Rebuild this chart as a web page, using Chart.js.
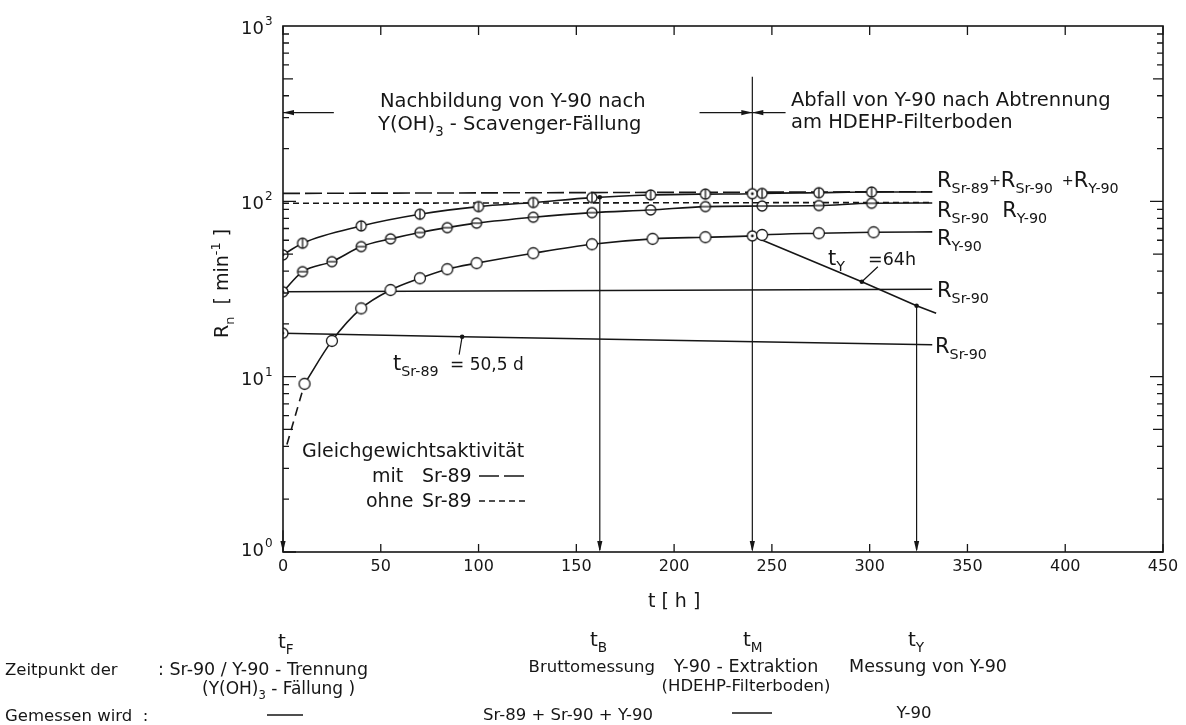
<!DOCTYPE html>
<html>
<head>
<meta charset="utf-8">
<script src="https://cdn.jsdelivr.net/npm/chart.js@4.4.0/dist/chart.umd.min.js"></script>
<style>
  body { margin: 0; background: #fff; }
  canvas { display: block; }
</style>
</head>
<body>
<canvas id="chart" width="1186" height="725"></canvas>
<script>
// values (t in hours, R in 1/min)
const tSum = [0, 10, 40, 70, 100, 128, 158, 188, 216, 240, 245, 274, 301, 332];
const rSum = [49.5, 57.7, 72.4, 84.4, 93.3, 98.4, 105, 108.7, 110, 110.5, 111, 112, 113, 113];
const tSrY = [0, 10, 25, 40, 55, 70, 84, 99, 128, 158, 188, 216, 245, 274, 301, 332];
const rSrY = [30.5, 39.7, 45.3, 55.2, 61.1, 66.4, 70.8, 75.1, 81.2, 86.2, 89.3, 93.3, 94, 94.6, 97.5, 97.8];
const tY = [11, 25, 40, 55, 70, 84, 99, 128, 158, 189, 216, 240, 245, 274, 302, 332];
const rY = [9.1, 16.0, 24.5, 31.2, 36.4, 41.0, 44.4, 50.6, 56.9, 61.1, 62.4, 63.5, 64.3, 65.8, 66.6, 67];
const tYEarly = [2, 11];
const rYEarly = [4.1, 9.1];
const tSr90 = [0, 332];
const rSr90 = [30.5, 31.5];
const tSr89 = [0, 91.6, 332];
const rSr89 = [17.7, 16.9, 15.2];
const tDecay = [240, 296, 324, 334];
const rDecay = [63.5, 34.8, 25.4, 23.0];
const tEq = [0, 332];
const rEqWith = [111, 113.5];
const rEqWithout = [97.5, 98.5];

const xTicks = [0, 50, 100, 150, 200, 250, 300, 350, 400, 450];
const yDecades = [1, 10, 100, 1000];
const yExponents = ["0", "1", "2", "3"];

// t_F, t_B, t_M, t_Y and where their vertical lines start
const tMarks = [0, 162, 240, 324];
const tMarkTop = [1.33, 105.5, 513, 25.4];
const arrowLevel = 321;
const arrowSpans = [[26, 0], [213, 240], [257, 240]];

const F = '"DejaVu Sans", sans-serif';
const INK = "#161616";

function makeMarker(kind, r) {
  const c = document.createElement("canvas");
  c.width = 16; c.height = 16;
  const g = c.getContext("2d");
  g.fillStyle = "#fff"; g.strokeStyle = INK; g.lineWidth = 1.3;
  g.beginPath(); g.arc(8, 8, r, 0, Math.PI * 2); g.fill(); g.stroke();
  g.beginPath();
  if (kind === "v") { g.moveTo(8, 8 - r); g.lineTo(8, 8 + r); }
  if (kind === "h") { g.moveTo(8 - r, 8); g.lineTo(8 + r, 8); }
  g.stroke();
  if (kind === "dot") {
    g.fillStyle = INK; g.beginPath(); g.arc(8, 8, 1.4, 0, Math.PI * 2); g.fill();
  }
  return c;
}
const M = { v: makeMarker("v", 5), h: makeMarker("h", 5), o: makeMarker("o", 5.5), dot: makeMarker("dot", 5) };

const pts = (ts, rs) => ts.map((t, i) => ({ x: t, y: rs[i] }));
const isLast = (c) => c.dataIndex === c.dataset.data.length - 1;

function measured(kind, dotAt) {
  return {
    pointStyle: (c) => (c.raw && dotAt.includes(c.raw.x) ? M.dot : M[kind]),
    pointRadius: (c) => (isLast(c) ? 0 : 5),
  };
}
function smallDots(at) {
  return {
    pointStyle: (c) => (c.raw && c.raw.x === 0 ? M.dot : "circle"),
    pointRadius: (c) => (c.raw && (at.includes(c.raw.x) || c.raw.x === 0) ? (c.raw.x === 0 ? 5 : 2.3) : 0),
    pointBackgroundColor: INK,
    pointBorderWidth: 0,
  };
}

const base = { borderColor: INK, borderWidth: 1.6, fill: false, pointRadius: 0 };
const curve = { cubicInterpolationMode: "monotone" };

const datasets = [
  { ...base, ...curve, data: pts(tSum, rSum), ...measured("v", [0, 240]) },
  { ...base, ...curve, data: pts(tSrY, rSrY), ...measured("h", [0]) },
  { ...base, ...curve, data: pts(tY, rY), ...measured("o", [240]) },
  { ...base, data: pts(tDecay, rDecay), ...smallDots([296, 324]) },
  { ...base, data: pts(tSr89, rSr89), ...smallDots([91.6]) },
  { ...base, data: pts(tSr90, rSr90) },
  { ...base, ...curve, data: pts(tYEarly, rYEarly), borderDash: [9, 6] },
  { ...base, data: pts(tEq, rEqWith), borderDash: [17, 5] },
  { ...base, data: pts(tEq, rEqWithout), borderDash: [6, 4] },
];

function rich(ctx, x, y, parts, size, align) {
  const seg = parts.map((p) => {
    const [txt, m] = Array.isArray(p) ? p : [p, "n"];
    const s = m === "n" ? size : size * 0.68;
    const dy = m === "b" ? size * 0.3 : m === "p" ? -size * 0.42 : m === "m" ? -size * 0.1 : 0;
    ctx.font = `${s}px ${F}`;
    return { txt, s, dy, w: ctx.measureText(txt).width };
  });
  const total = seg.reduce((a, b) => a + b.w, 0);
  let cx = align === "right" ? x - total : align === "center" ? x - total / 2 : x;
  ctx.textAlign = "left";
  ctx.textBaseline = "alphabetic";
  seg.forEach((g) => {
    ctx.font = `${g.s}px ${F}`;
    ctx.fillText(g.txt, cx, y + g.dy);
    cx += g.w;
  });
  return total;
}

function head(ctx, x, y, dx, dy) {
  const L = 11, W = 2.6;
  ctx.beginPath();
  ctx.moveTo(x, y);
  ctx.lineTo(x - dx * L - dy * W, y - dy * L + dx * W);
  ctx.lineTo(x - dx * L + dy * W, y - dy * L - dx * W);
  ctx.closePath();
  ctx.fill();
}

const paper = {
  id: "paper",
  beforeDraw(chart) {
    const ctx = chart.ctx;
    ctx.save();
    ctx.fillStyle = "#fff";
    ctx.fillRect(0, 0, chart.width, chart.height);
    ctx.restore();
  },
  beforeDatasetsDraw(chart) {
    const ctx = chart.ctx;
    const X = (t) => chart.scales.x.getPixelForValue(t);
    const Y = (v) => chart.scales.y.getPixelForValue(v);
    ctx.save();
    ctx.strokeStyle = INK; ctx.fillStyle = INK; ctx.lineWidth = 1.2;
    tMarks.forEach((t, i) => {
      ctx.beginPath();
      ctx.moveTo(X(t), Y(tMarkTop[i]));
      ctx.lineTo(X(t), Y(1) - 2);
      ctx.stroke();
      head(ctx, X(t), Y(1), 0, 1);
    });
    ctx.beginPath(); ctx.arc(X(tMarks[1]), Y(tMarkTop[1]), 2.3, 0, Math.PI * 2); ctx.fill();
    arrowSpans.forEach(([a, b]) => {
      ctx.beginPath();
      ctx.moveTo(X(a), Y(arrowLevel));
      ctx.lineTo(X(b), Y(arrowLevel));
      ctx.stroke();
      head(ctx, X(b), Y(arrowLevel), Math.sign(b - a), 0);
    });
    // leader lines for the half-life notes
    ctx.beginPath();
    ctx.moveTo(X(296), Y(34.8)); ctx.lineTo(X(296) + 16, Y(34.8) - 15);
    ctx.moveTo(X(91.6), Y(16.9)); ctx.lineTo(X(91.6) - 3, Y(16.9) + 18);
    ctx.stroke();
    ctx.restore();
  },
  afterDatasetsDraw(chart) {
    const ctx = chart.ctx;
    const a = chart.chartArea;
    const X = (t) => chart.scales.x.getPixelForValue(t);
    const Y = (v) => chart.scales.y.getPixelForValue(v);
    ctx.save();
    ctx.strokeStyle = INK; ctx.fillStyle = INK;

    // frame and inner ticks
    ctx.lineWidth = 1.6;
    ctx.strokeRect(a.left, a.top, a.right - a.left, a.bottom - a.top);
    ctx.lineWidth = 1.3;
    ctx.beginPath();
    xTicks.forEach((t) => {
      ctx.moveTo(X(t), a.bottom); ctx.lineTo(X(t), a.bottom - 8);
      ctx.moveTo(X(t), a.top); ctx.lineTo(X(t), a.top + 9);
    });
    for (let d = 1; d < 1000; d *= 10) {
      for (let k = 1; k <= 9; k++) {
        const y = Y(d * k);
        const len = k === 1 ? 13 : k === 5 ? 10 : 6;
        ctx.moveTo(a.left, y); ctx.lineTo(a.left + len, y);
        ctx.moveTo(a.right, y); ctx.lineTo(a.right - len, y);
      }
    }
    ctx.stroke();

    // tick labels
    ctx.font = `16px ${F}`;
    ctx.textAlign = "center";
    xTicks.forEach((t) => ctx.fillText(String(t), X(t), a.bottom + 19));
    yDecades.forEach((v, i) => {
      const y = v === 1 ? Y(v) + 4 : Y(v) + 8;
      ctx.font = `18px ${F}`; ctx.textAlign = "right";
      ctx.fillText("10", 264, y);
      ctx.font = `12px ${F}`; ctx.textAlign = "left";
      ctx.fillText(yExponents[i], 265, y - 9);
    });

    // axis titles
    rich(ctx, X(200), 607, ["t [ h ]"], 19, "center");
    ctx.save();
    ctx.translate(228, 338);
    ctx.rotate(-Math.PI / 2);
    rich(ctx, 0, 0, ["R", ["n", "b"], "  [ min", ["-1", "p"], " ]"], 19);
    ctx.restore();

    // notes inside the plot
    rich(ctx, 380, 107, ["Nachbildung von Y-90 nach"], 19.5);
    rich(ctx, 378, 130, ["Y(OH)", ["3", "b"], " - Scavenger-Fällung"], 19.5);
    rich(ctx, 791, 106, ["Abfall von Y-90 nach Abtrennung"], 19.5);
    rich(ctx, 791, 128, ["am HDEHP-Filterboden"], 19.5);

    rich(ctx, 937, 187, ["R", ["Sr-89", "b"], ["+", "m"], "R", ["Sr-90", "b"], ["  +", "m"], "R", ["Y-90", "b"]], 21);
    rich(ctx, 937, 217, ["R", ["Sr-90", "b"], "  R", ["Y-90", "b"]], 21);
    rich(ctx, 937, 245, ["R", ["Y-90", "b"]], 21);
    rich(ctx, 937, 297, ["R", ["Sr-90", "b"]], 21);
    rich(ctx, 935, 353, ["R", ["Sr-90", "b"]], 21);

    rich(ctx, 828, 265, ["t", ["Y", "b"]], 21);
    rich(ctx, 868, 265, ["=64h"], 17.5);
    rich(ctx, 393, 370, ["t", ["Sr-89", "b"]], 21);
    rich(ctx, 450, 370, ["= 50,5 d"], 17);

    rich(ctx, 302, 457, ["Gleichgewichtsaktivität"], 19);
    rich(ctx, 372, 482, ["mit"], 19);
    rich(ctx, 422, 482, ["Sr-89"], 19);
    rich(ctx, 366, 507, ["ohne"], 19);
    rich(ctx, 422, 507, ["Sr-89"], 19);
    ctx.lineWidth = 1.5;
    ctx.setLineDash([20, 5]);
    ctx.beginPath(); ctx.moveTo(479, 476); ctx.lineTo(524, 476); ctx.stroke();
    ctx.setLineDash([6, 4]);
    ctx.beginPath(); ctx.moveTo(479, 501); ctx.lineTo(526, 501); ctx.stroke();
    ctx.setLineDash([]);

    // table below the plot
    rich(ctx, 278, 648, ["t", ["F", "b"]], 20);
    rich(ctx, 590, 646, ["t", ["B", "b"]], 20);
    rich(ctx, 743, 646, ["t", ["M", "b"]], 20);
    rich(ctx, 908, 646, ["t", ["Y", "b"]], 20);

    rich(ctx, 5, 675, ["Zeitpunkt der"], 16.5);
    rich(ctx, 158, 675, [": Sr-90 / Y-90 - Trennung"], 17.5);
    rich(ctx, 202, 694, ["(Y(OH)", ["3", "b"], " - Fällung )"], 17);
    rich(ctx, 655, 672, ["Bruttomessung"], 16.5, "right");
    rich(ctx, 746, 672, ["Y-90 - Extraktion"], 17.5, "center");
    rich(ctx, 746, 691, ["(HDEHP-Filterboden)"], 16.5, "center");
    rich(ctx, 928, 672, ["Messung von Y-90"], 17.5, "center");

    rich(ctx, 5, 721, ["Gemessen wird  :"], 16.5);
    rich(ctx, 653, 720, ["Sr-89 + Sr-90 + Y-90"], 16.5, "right");
    rich(ctx, 914, 718, ["Y-90"], 16.5, "center");
    ctx.lineWidth = 1.4;
    ctx.beginPath();
    ctx.moveTo(267, 715); ctx.lineTo(303, 715);
    ctx.moveTo(732, 713); ctx.lineTo(772, 713);
    ctx.stroke();

    ctx.restore();
  },
};

new Chart(document.getElementById("chart"), {
  type: "line",
  data: { datasets },
  options: {
    responsive: false,
    animation: false,
    events: [],
    layout: { padding: { left: 283, right: 23, top: 26, bottom: 173 } },
    scales: {
      x: { type: "linear", min: 0, max: 450, display: false },
      y: { type: "logarithmic", min: 1, max: 1000, display: false },
    },
    plugins: { legend: { display: false }, tooltip: { enabled: false } },
  },
  plugins: [paper],
});
</script>
</body>
</html>
